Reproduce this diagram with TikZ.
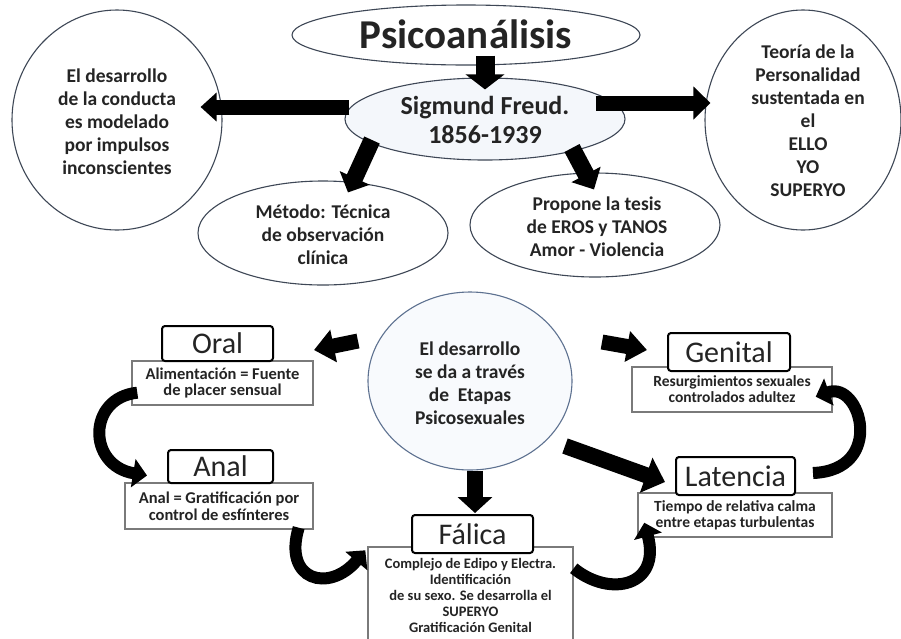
\documentclass[tikz,border=0pt]{standalone}
\usepackage{fontspec}
\setmainfont{Carlito}
\usetikzlibrary{shapes.geometric,arrows.meta,calc}
\definecolor{ink}{HTML}{242424}
\definecolor{edge}{HTML}{3E4756}
\definecolor{bedge}{HTML}{5D7190}
\definecolor{boxg}{HTML}{7A7A7A}
\definecolor{freudfill}{HTML}{F4F7FB}
\definecolor{cfill}{HTML}{F8FAFD}
\begin{document}
\begin{tikzpicture}[x=1pt,y=-1pt,
  shp/.style={ellipse,draw=edge,line width=1.1pt,inner sep=0pt,fill=white},
  txt/.style={align=center,text=ink,inner sep=0pt,font=\bfseries\fontsize{19.5}{23}\selectfont},
  descbox/.style={draw=boxg,line width=1.4pt,fill=white,inner sep=2pt,align=center,text=ink,font=\bfseries\fontsize{15.5}{16}\selectfont},
  titlebox/.style={draw=black,line width=2pt,rounded corners=3pt,fill=white,inner sep=0pt,text=ink,font=\fontsize{30}{30}\selectfont},
  blk/.style n args={3}{draw=black,line width=#1pt,-{Triangle[width=#2pt,length=#3pt]}},
  crv/.style={draw=black,line width=12pt,-{Triangle[width=28pt,length=14pt]}}
]
\useasboundingbox (0,0) rectangle (901,638);
\clip (0,0) rectangle (901,638);
\fill[white] (0,0) rectangle (901,638);

% top part
\node[shp,minimum width=348pt,minimum height=60pt] (psico) at (466,35) {};
\node[txt,font=\bfseries\fontsize{41}{41}\selectfont] (psicot) at (466,34) {Psicoanálisis};

\node[shp,fill=freudfill,minimum width=280pt,minimum height=82pt] (freud) at (485,119) {};
\node[txt,font=\bfseries\fontsize{26}{29}\selectfont] (freudt) at (485,120) {Sigmund Freud.\\1856-1939};

\node[shp,minimum width=210pt,minimum height=220pt] (leftc) at (117,120) {};
\node[txt] (leftct) at (117,122) {El desarrollo\\de la conducta\\es modelado\\por impulsos\\inconscientes};

\node[shp,minimum width=196pt,minimum height=220pt] (rightc) at (803,120) {};
\node[txt] (rightct) at (808,121) {Teoría de la\\Personalidad\\sustentada en\\el\\ELLO\\YO\\SUPERYO};

\node[shp,minimum width=250pt,minimum height=104pt] (metodo) at (323,233) {};
\node[txt] (metodot) at (323,235) {Método: Técnica\\de observación\\clínica};

\node[shp,minimum width=250pt,minimum height=104pt] (propone) at (595,225) {};
\node[txt] (proponet) at (597,227) {Propone la tesis\\de EROS y TANOS\\Amor - Violencia};

% bottom part
\node[shp,draw=bedge,fill=cfill,minimum width=204pt,minimum height=178pt] (central) at (470,381) {};
\node[txt] (centralt) at (470,383) {El desarrollo\\se da a través\\de\ \ Etapas\\Psicosexuales};

\node[descbox,font=\bfseries\fontsize{16.5}{16}\selectfont,minimum width=181pt,minimum height=44pt] (oralD) at (222.5,383) {Alimentación = Fuente\\de placer sensual};
\node[titlebox,minimum width=111pt,minimum height=35pt] (oralT) at (217.5,343.5) {Oral};

\node[descbox,font=\bfseries\fontsize{16.5}{16.5}\selectfont,minimum width=188pt,minimum height=46pt] (analD) at (219,506) {Anal = Gratificación por\\control de esfínteres};
\node[titlebox,minimum width=105pt,minimum height=33pt] (analT) at (220.5,466.5) {Anal};

\node[descbox,font=\bfseries\fontsize{14.5}{16}\selectfont,minimum width=205pt,minimum height=97pt] (falD) at (470.5,595.5) {Complejo de Edipo y Electra.\\Identificación\\de su sexo. Se desarrolla el\\SUPERYO\\Gratificación Genital};
\node[titlebox,minimum width=121pt,minimum height=38pt] (falT) at (472.5,534) {Fálica};

\node[descbox,minimum width=200pt,minimum height=45pt] (genD) at (732,389.5) {Resurgimientos sexuales\\controlados adultez};
\node[titlebox,minimum width=122pt,minimum height=38pt] (genT) at (729,352) {Genital};

\node[descbox,minimum width=194pt,minimum height=44pt] (latD) at (735,515) {Tiempo de relativa calma\\entre etapas turbulentas};
\node[titlebox,minimum width=119pt,minimum height=38pt] (latT) at (735.5,476) {Latencia};

% block arrows
\draw[blk={19}{38}{15}] ($(psico.south)+(19,-10)$) -- ($(freud.north)+(0,12)$);
\draw[blk={15}{28}{16}] ($(freud.west)+(5,-12)$) -- ($(leftc.east)+(-22,-13)$);
\draw[blk={15}{32}{17}] ($(freud.east)+(-30,-16)$) -- ($(rightc.west)+(6,-17)$);
\draw[blk={17}{32}{16}] ($(freud.center)+(-113,21)$) -- ($(metodo.north)+(25,12)$);
\draw[blk={17}{32}{17}] ($(freud.center)+(87,29)$) -- ($(propone.north)+(-1,17)$);

\draw[blk={15}{32}{20}] ($(central.center)+(-112,-40)$) -- ($(oralT.east)+(40,6.5)$);
\draw[blk={15}{30}{20}] ($(central.center)+(132,-39)$) -- ($(genT.west)+(-20,-2)$);
\draw[blk={16}{34}{16}] ($(central.south)+(5,0)$) -- ($(falT.north)+(2.5,-1)$);
\draw[blk={16}{36}{20}] ($(central.center)+(95,65)$) -- ($(latT.west)+(-10,6)$);

% curved arrows
\draw[crv] ($(oralD.south west)+(6,-13)$) .. controls +(-50,5) and +(-60,-10) .. ($(analT.west)+(-20,9)$);
\draw[crv] ($(analD.south east)+(-15,-2)$) .. controls +(-16,53) and +(-36,43) .. ($(falD.north west)+(-2,4)$);
\draw[crv] ($(falD.north east)+(0,22)$) .. controls +(37,30) and +(17,63) .. ($(latD.south west)+(7,-15)$);
\draw[crv] ($(latT.east)+(17,-3)$) .. controls +(73,-3) and +(45,-16) .. ($(genD.south east)+(-17,-16)$);
\end{tikzpicture}
\end{document}
